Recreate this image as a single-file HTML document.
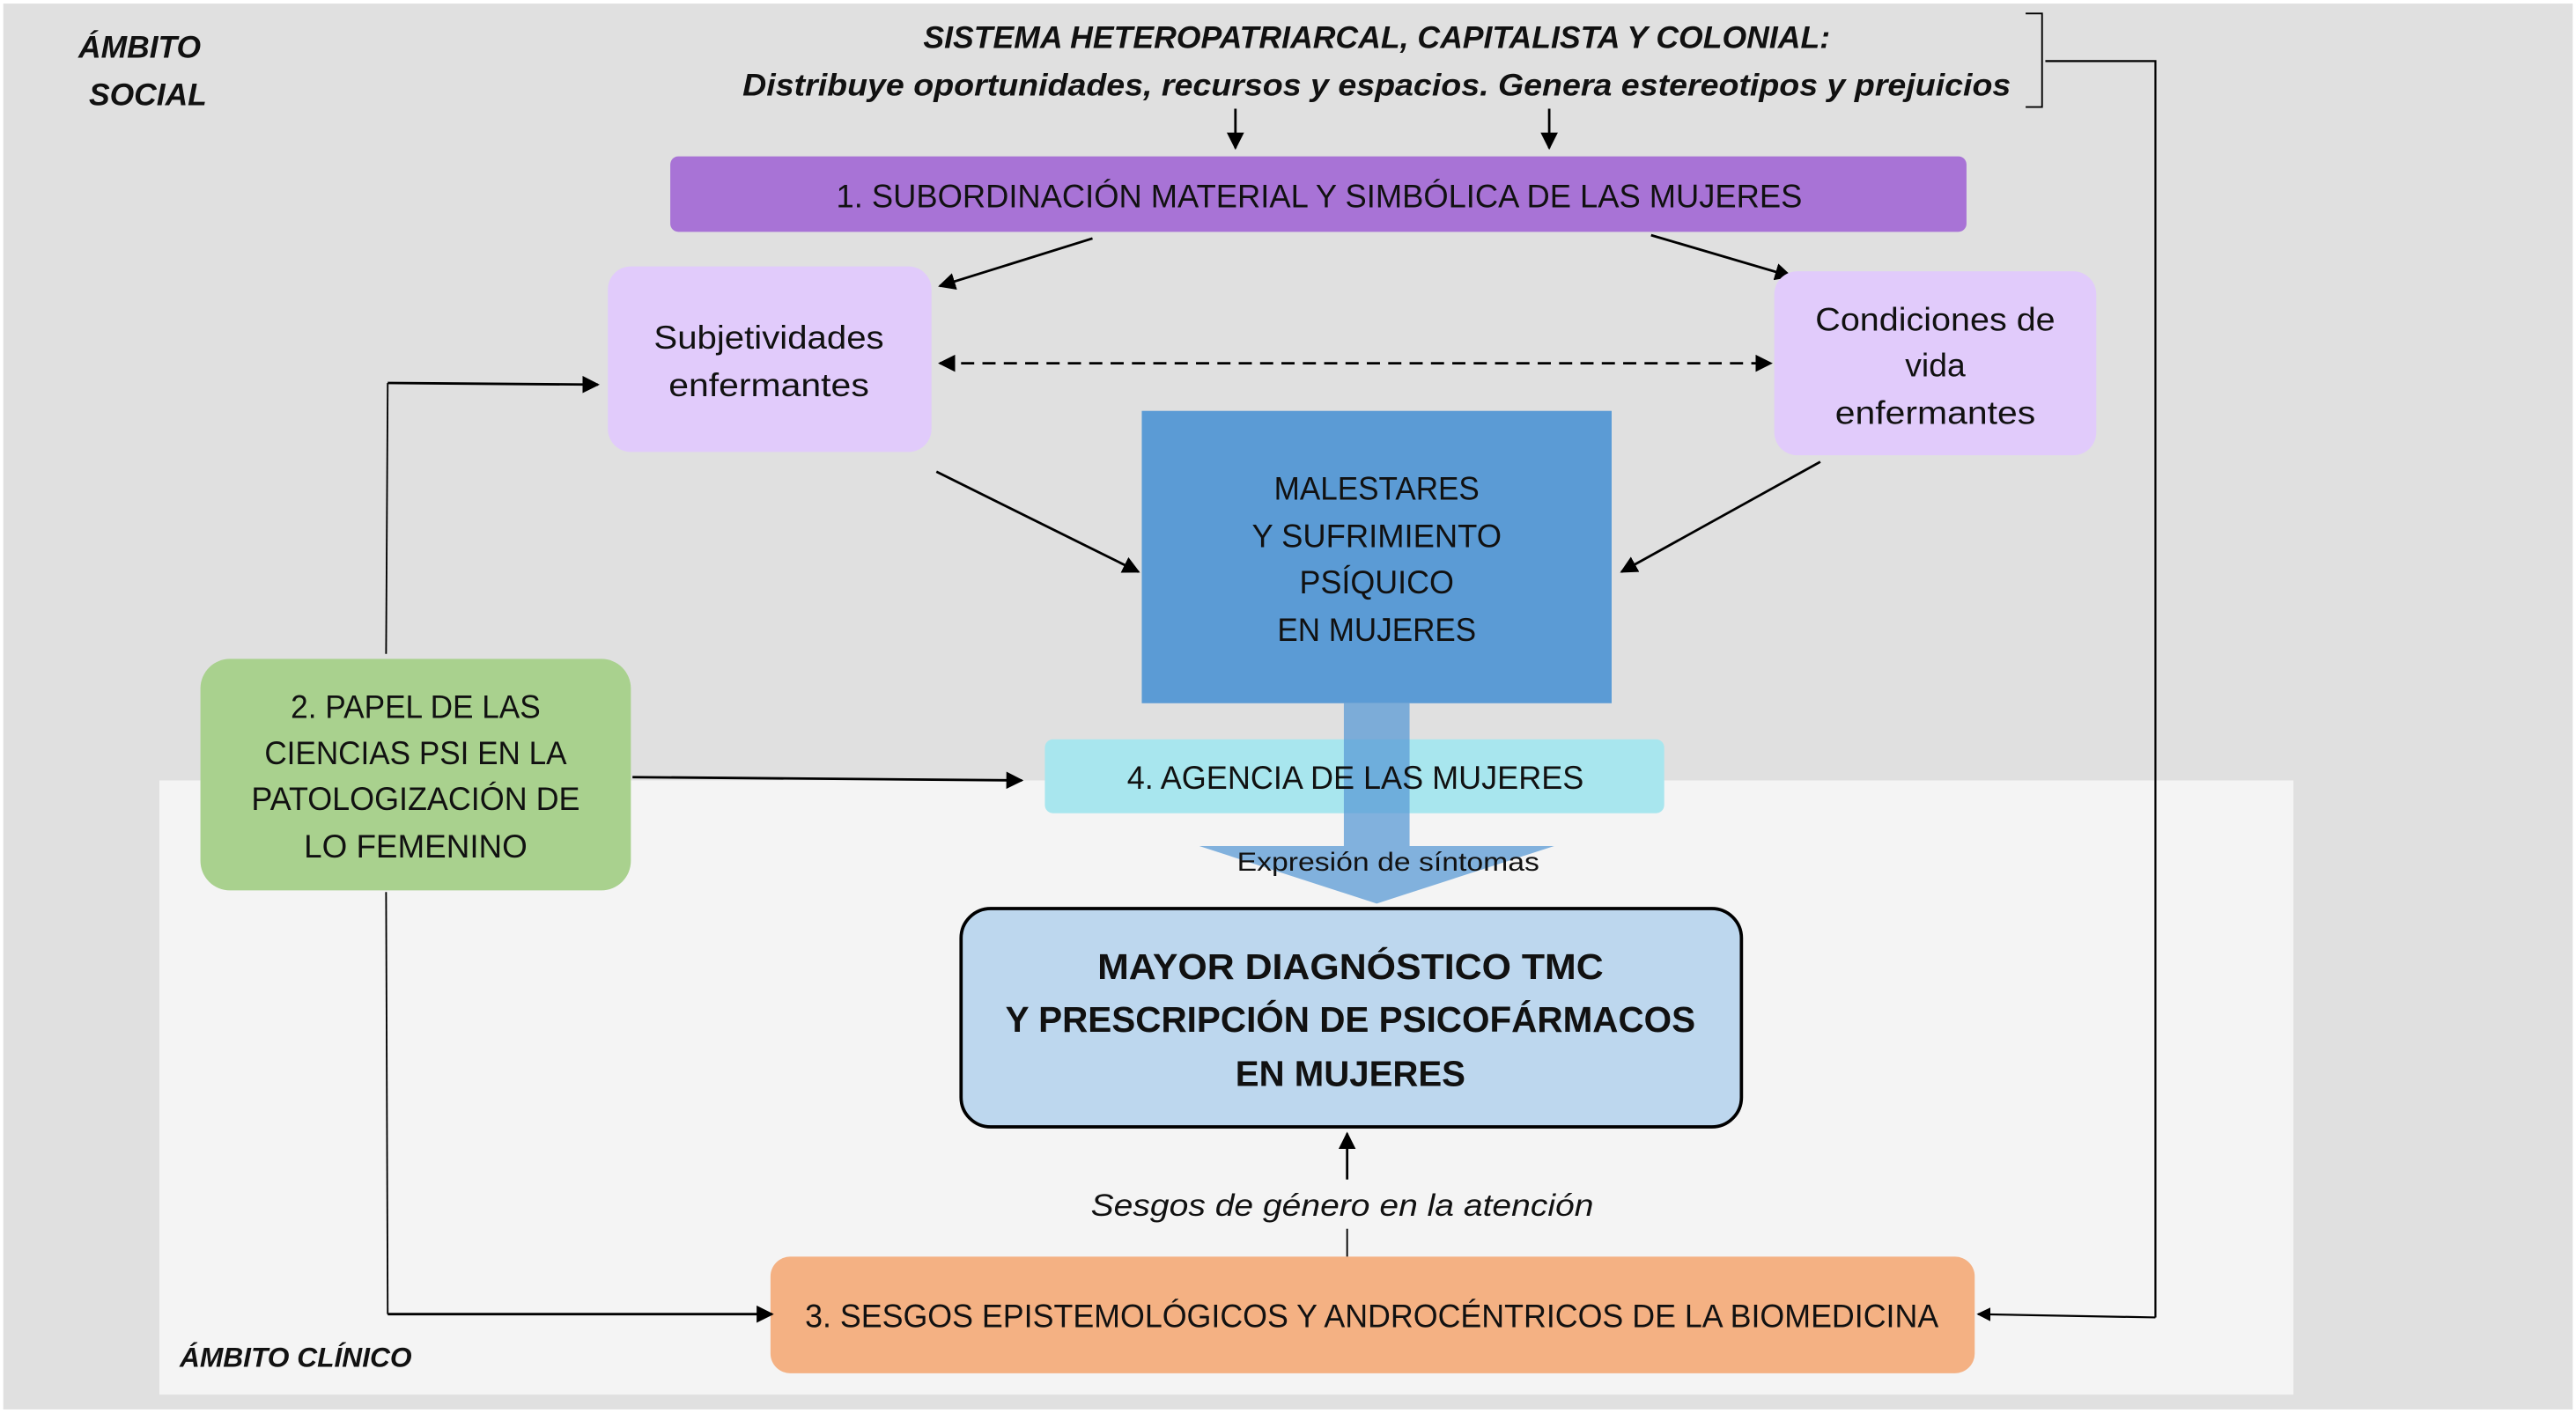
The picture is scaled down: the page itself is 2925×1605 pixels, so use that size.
<!DOCTYPE html>
<html><head><meta charset="utf-8">
<style>
html,body{margin:0;padding:0;background:#fff;}
svg{display:block;}
text{font-family:"Liberation Sans",sans-serif;fill:#111;}
</style></head>
<body>
<svg width="2925" height="1605" viewBox="0 0 1568 860" xmlns="http://www.w3.org/2000/svg">
<defs>
<marker id="a" viewBox="0 0 10 10" refX="9" refY="5" markerWidth="7" markerHeight="7" orient="auto-start-reverse">
<path d="M0,0 L10,5 L0,10 z" fill="#000"/></marker>
</defs>
<rect x="0" y="0" width="1568" height="860" fill="#fff"/>
<rect x="2" y="2" width="1564" height="856" fill="#e0e0e0"/>
<rect x="97" y="475" width="1299" height="374" fill="#f4f4f4"/>

<text x="85" y="35" font-size="19" font-style="italic" font-weight="bold" text-anchor="middle">ÁMBITO</text>
<text x="90" y="64" font-size="19" font-style="italic" font-weight="bold" text-anchor="middle">SOCIAL</text>
<text x="180" y="832" font-size="17" font-style="italic" font-weight="bold" text-anchor="middle">ÁMBITO CLÍNICO</text>

<text x="838" y="29" font-size="19" font-style="italic" font-weight="bold" text-anchor="middle" textLength="552" lengthAdjust="spacingAndGlyphs">SISTEMA HETEROPATRIARCAL, CAPITALISTA Y COLONIAL:</text>
<text x="838" y="58" font-size="19" font-style="italic" font-weight="bold" text-anchor="middle" textLength="772" lengthAdjust="spacingAndGlyphs">Distribuye oportunidades, recursos y espacios. Genera estereotipos y prejuicios</text>

<path d="M1233,8 L1243,8 L1243,65 L1233,65" fill="none" stroke="#000" stroke-width="1"/>
<path d="M1245,37 L1312,37 L1312,802" fill="none" stroke="#000" stroke-width="1.2"/>
<line x1="1312" y1="802" x2="1204" y2="800" stroke="#000" stroke-width="1.2" marker-end="url(#a)"/>

<line x1="752" y1="66" x2="752" y2="90" stroke="#000" stroke-width="1.5" marker-end="url(#a)"/>
<line x1="943" y1="66" x2="943" y2="90" stroke="#000" stroke-width="1.5" marker-end="url(#a)"/>

<rect x="408" y="95" width="789" height="46" rx="5" fill="#a873d6"/>
<text x="803" y="126" font-size="20" text-anchor="middle" textLength="588" lengthAdjust="spacingAndGlyphs">1. SUBORDINACIÓN MATERIAL Y SIMBÓLICA DE LAS MUJERES</text>

<line x1="665" y1="145" x2="572" y2="174" stroke="#000" stroke-width="1.5" marker-end="url(#a)"/>
<line x1="1005" y1="143" x2="1090" y2="168" stroke="#000" stroke-width="1.5" marker-end="url(#a)"/>

<rect x="370" y="162" width="197" height="113" rx="14" fill="#e1cbfb"/>
<text x="468" y="212" font-size="20" text-anchor="middle" textLength="140" lengthAdjust="spacingAndGlyphs">Subjetividades</text>
<text x="468" y="241" font-size="20" text-anchor="middle" textLength="122" lengthAdjust="spacingAndGlyphs">enfermantes</text>

<rect x="1080" y="165" width="196" height="112" rx="14" fill="#e1cbfb"/>
<text x="1178" y="201" font-size="20" text-anchor="middle" textLength="146" lengthAdjust="spacingAndGlyphs">Condiciones de</text>
<text x="1178" y="229" font-size="20" text-anchor="middle">vida</text>
<text x="1178" y="258" font-size="20" text-anchor="middle" textLength="122" lengthAdjust="spacingAndGlyphs">enfermantes</text>

<line x1="572" y1="221" x2="1078" y2="221" stroke="#000" stroke-width="1.5" stroke-dasharray="8,5" marker-start="url(#a)" marker-end="url(#a)"/>

<line x1="570" y1="287" x2="693" y2="348" stroke="#000" stroke-width="1.5" marker-end="url(#a)"/>
<line x1="1108" y1="281" x2="987" y2="348" stroke="#000" stroke-width="1.5" marker-end="url(#a)"/>

<rect x="695" y="250" width="286" height="178" fill="#5b9bd5"/>
<text x="838" y="304" font-size="20" text-anchor="middle" textLength="125" lengthAdjust="spacingAndGlyphs">MALESTARES</text>
<text x="838" y="333" font-size="20" text-anchor="middle" textLength="152" lengthAdjust="spacingAndGlyphs">Y SUFRIMIENTO</text>
<text x="838" y="361" font-size="20" text-anchor="middle" textLength="94" lengthAdjust="spacingAndGlyphs">PSÍQUICO</text>
<text x="838" y="390" font-size="20" text-anchor="middle" textLength="121" lengthAdjust="spacingAndGlyphs">EN MUJERES</text>

<rect x="636" y="450" width="377" height="45" rx="5" fill="#a8e6ee"/>
<path d="M818,428 L858,428 L858,515 L946,515 L838,550 L730,515 L818,515 z" fill="#5b9bd5" fill-opacity="0.75"/>
<text x="825" y="480" font-size="20" text-anchor="middle" textLength="278" lengthAdjust="spacingAndGlyphs">4. AGENCIA DE LAS MUJERES</text>
<text x="845" y="530" font-size="16" text-anchor="middle" textLength="184" lengthAdjust="spacingAndGlyphs">Expresión de síntomas</text>

<rect x="585" y="553" width="475" height="133" rx="18" fill="#bdd7ee" stroke="#000" stroke-width="2"/>
<text x="822" y="596" font-size="22" font-weight="bold" text-anchor="middle" textLength="308" lengthAdjust="spacingAndGlyphs">MAYOR DIAGNÓSTICO TMC</text>
<text x="822" y="628" font-size="22" font-weight="bold" text-anchor="middle" textLength="420" lengthAdjust="spacingAndGlyphs">Y PRESCRIPCIÓN DE PSICOFÁRMACOS</text>
<text x="822" y="661" font-size="22" font-weight="bold" text-anchor="middle" textLength="140" lengthAdjust="spacingAndGlyphs">EN MUJERES</text>

<line x1="820" y1="718" x2="820" y2="690" stroke="#000" stroke-width="1.5" marker-end="url(#a)"/>
<line x1="820" y1="748" x2="820" y2="765" stroke="#000" stroke-width="1"/>
<text x="817" y="740" font-size="19" font-style="italic" text-anchor="middle" textLength="306" lengthAdjust="spacingAndGlyphs">Sesgos de género en la atención</text>

<rect x="469" y="765" width="733" height="71" rx="12" fill="#f4b183"/>
<text x="835" y="808" font-size="20" text-anchor="middle" textLength="690" lengthAdjust="spacingAndGlyphs">3. SESGOS EPISTEMOLÓGICOS Y ANDROCÉNTRICOS DE LA BIOMEDICINA</text>

<rect x="122" y="401" width="262" height="141" rx="18" fill="#a9d18e"/>
<text x="253" y="437" font-size="20" text-anchor="middle" textLength="152" lengthAdjust="spacingAndGlyphs">2. PAPEL DE LAS</text>
<text x="253" y="465" font-size="20" text-anchor="middle" textLength="184" lengthAdjust="spacingAndGlyphs">CIENCIAS PSI EN LA</text>
<text x="253" y="493" font-size="20" text-anchor="middle" textLength="200" lengthAdjust="spacingAndGlyphs">PATOLOGIZACIÓN DE</text>
<text x="253" y="522" font-size="20" text-anchor="middle" textLength="136" lengthAdjust="spacingAndGlyphs">LO FEMENINO</text>

<path d="M235,398 L236,233" fill="none" stroke="#000" stroke-width="1"/>
<line x1="236" y1="233" x2="364" y2="234" stroke="#000" stroke-width="1.5" marker-end="url(#a)"/>
<line x1="385" y1="473" x2="622" y2="475" stroke="#000" stroke-width="1.5" marker-end="url(#a)"/>
<path d="M235,543 L236,800" fill="none" stroke="#000" stroke-width="1"/>
<line x1="236" y1="800" x2="470" y2="800" stroke="#000" stroke-width="1.5" marker-end="url(#a)"/>
</svg>
</body></html>
